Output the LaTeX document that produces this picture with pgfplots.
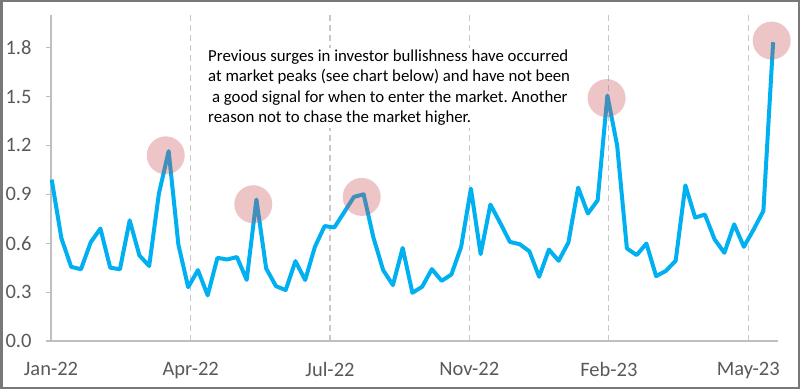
\documentclass[border=0pt]{standalone}
\usepackage{pgfplots}
\pgfplotsset{compat=1.18}
\usepackage{fontspec}
\setmainfont{Carlito}
\frenchspacing
\definecolor{linecol}{RGB}{0,176,240}
\definecolor{circcol}{RGB}{200,80,85}
\definecolor{ticktext}{RGB}{89,89,89}
\definecolor{axcol}{RGB}{191,191,191}
\definecolor{gridcol}{RGB}{200,200,200}
\definecolor{framecol}{RGB}{120,120,120}
\begin{document}
\begin{tikzpicture}
\useasboundingbox (0,0) rectangle (800pt,389pt);
\begin{axis}[
  at={(51pt,48pt)}, anchor=south west,
  scale only axis, width=727pt, height=326pt,
  xmin=-0.07, xmax=74.5, ymin=0, ymax=2.0,
  axis x line=bottom, axis y line=left,
  axis line style={-, draw=axcol, line width=1.5pt},
  xtick={-0.07,14.26,28.55,42.84,57.15,71.45},
  xticklabels={Jan-22,Apr-22,Jul-22,Nov-22,Feb-23,May-23},
  ytick={0,0.3,0.6,0.9,1.2,1.5,1.8},
  yticklabel style={/pgf/number format/.cd, fixed, fixed zerofill, precision=1},
  /pgf/number format/assume math mode=true,
  tick label style={font=\fontsize{20.5}{24}\selectfont, text=ticktext},
  xtick style={draw=none},
  ytick style={draw=axcol, line width=1.2pt},
  tick align=outside, major tick length=5pt,
  xmajorgrids, ymajorgrids=false,
  grid style={draw=gridcol, line width=1.2pt, dash pattern=on 6pt off 4pt},
  yticklabel shift=11pt,
  xticklabel shift=13pt,
  clip=false,
]
\addplot[color=linecol, line width=4pt, line join=round, no marks] coordinates {
(0,0.99) (1,0.63) (2,0.455) (3,0.44) (4,0.605) (5,0.69) (6,0.45) (7,0.44) (8,0.74) (9,0.525)
(10,0.46) (11,0.905) (12,1.165) (13,0.59) (14,0.33) (15,0.435) (16,0.28) (17,0.51) (18,0.50) (19,0.515)
(20,0.375) (21,0.868) (22,0.445) (23,0.337) (24,0.312) (25,0.49) (26,0.374) (27,0.578) (28,0.705) (29,0.697)
(30,0.79) (31,0.884) (32,0.90) (33,0.635) (34,0.435) (35,0.343) (36,0.571) (37,0.296) (38,0.333) (39,0.441)
(40,0.369) (41,0.408) (42,0.578) (43,0.935) (44,0.533) (45,0.837) (46,0.725) (47,0.608) (48,0.594) (49,0.55)
(50,0.394) (51,0.561) (52,0.492) (53,0.604) (54,0.941) (55,0.782) (56,0.863) (57,1.506) (58,1.20) (59,0.568)
(60,0.527) (61,0.598) (62,0.398) (63,0.43) (64,0.492) (65,0.955) (66,0.757) (67,0.776) (68,0.623) (69,0.541)
(70,0.716) (71,0.578) (72,0.684) (73,0.798) (74,1.833)
};
\addplot[only marks, mark=*, mark size=19pt, color=circcol, draw opacity=0, fill opacity=0.33,
  mark options={draw opacity=0, fill opacity=0.33, fill=circcol}] coordinates {
(11.7,1.139) (20.68,0.839) (31.8,0.884) (56.92,1.49) (73.85,1.843)
};
\node[anchor=north west, align=left, fill=white, inner sep=2pt, text=black,
      font=\fontsize{16.8}{20.5}\selectfont] at (axis cs:15.83,1.80)
  {Previous surges in investor bullishness have occurred\\
   at market peaks (see chart below) and have not been\\
   \ a good signal for when to enter the market. Another\\
   reason not to chase the market higher.};
\end{axis}
\draw[line width=2.5pt, draw=framecol] (1.25pt,1.25pt) rectangle (798.75pt,387.75pt);
\end{tikzpicture}
\end{document}
